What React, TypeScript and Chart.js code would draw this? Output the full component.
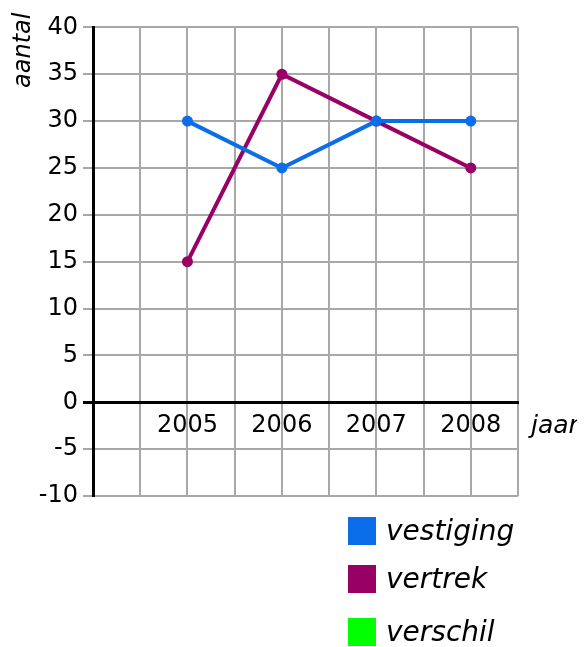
import React, { useEffect, useRef } from "react";
import { Chart, registerables } from "chart.js";

Chart.register(...registerables);

const categories: string[] = ["2005", "2006", "2007", "2008"];
const vestiging: number[] = [30, 25, 30, 30];
const vertrek: number[] = [15, 35, 30, 25];
const verschil: number[] = [];
const seriesNames: string[] = ["vestiging", "vertrek", "verschil"];
const seriesColors: string[] = ["#0a6ee8", "#990066", "#00ff00"];
const yMin = -10;
const yMax = 40;
const yStep = 5;
const xMin = 2004;
const xMax = 2008.5;
const xStep = 0.5;
const yTitle = "aantal";
const xTitle = "jaar";

const FONT = "'DejaVu Sans', Verdana, sans-serif";

export default function App() {
  const ref = useRef<HTMLCanvasElement | null>(null);

  useEffect(() => {
    if (!ref.current) return;
    const toPoints = (vals: number[]) =>
      vals.map((v, i) => ({ x: Number(categories[i]), y: v }));
    const allSeries = [vestiging, vertrek, verschil];
    const chart = new Chart(ref.current, {
      type: "line",
      data: {
        datasets: allSeries.map((vals, i) => ({
          label: seriesNames[i],
          data: toPoints(vals),
          borderColor: seriesColors[i],
          backgroundColor: seriesColors[i],
          pointBackgroundColor: seriesColors[i],
          pointBorderWidth: 0,
          pointRadius: 5.5,
          borderWidth: 4,
          tension: 0,
          fill: false,
        })),
      },
      options: {
        responsive: false,
        animation: false,
        events: [],
        layout: { padding: { top: 17, bottom: 151, right: 59, left: 0 } },
        plugins: { legend: { display: false }, tooltip: { enabled: false } },
        scales: {
          x: {
            type: "linear",
            min: xMin,
            max: xMax,
            position: { y: 0 },
            grid: {
              color: "#a8a8a8",
              lineWidth: 2,
              drawTicks: false,
            },
            border: { display: true, color: "#000000", width: 3 },
            ticks: {
              stepSize: xStep,
              autoSkip: false,
              maxRotation: 0,
              padding: 9,
              color: "#000000",
              font: { family: FONT, size: 24 },
              callback: (v: any) => {
                const s = String(v);
                return categories.includes(s) ? s : "";
              },
            },
          },
          y: {
            type: "linear",
            min: yMin,
            max: yMax,
            afterFit: (s: any) => {
              s.width = 85;
            },
            grid: {
              color: (c: any) => (c.tick && c.tick.value === 0 ? "#000000" : "#a8a8a8"),
              lineWidth: (c: any) => (c.tick && c.tick.value === 0 ? 3 : 2),
              tickLength: 10,
            },
            border: { display: true, color: "#000000", width: 3 },
            ticks: {
              stepSize: yStep,
              padding: 5,
              color: "#000000",
              font: { family: FONT, size: 24 },
            },
          },
        },
      },
    });
    return () => chart.destroy();
  }, []);

  const legendTops = [509, 557, 610];

  return (
    <div style={{ position: "relative", width: 569, height: 639, fontFamily: FONT }}>
      <canvas ref={ref} width={569} height={639} style={{ width: 569, height: 639, display: "block" }} />
      <div
        style={{
          position: "absolute",
          left: 0,
          top: 80,
          transform: "rotate(-90deg)",
          transformOrigin: "left top",
          fontStyle: "italic",
          fontSize: 24,
          lineHeight: "28px",
          whiteSpace: "nowrap",
          color: "#000",
        }}
      >
        {yTitle}
      </div>
      <div
        style={{
          position: "absolute",
          left: 523,
          top: 402,
          fontStyle: "italic",
          fontSize: 25,
          lineHeight: "30px",
          whiteSpace: "nowrap",
          color: "#000",
        }}
      >
        {xTitle}
      </div>
      {seriesNames.map((name, i) => (
        <div
          key={name}
          style={{
            position: "absolute",
            left: 340,
            top: legendTops[i],
            height: 28,
            display: "flex",
            alignItems: "center",
            whiteSpace: "nowrap",
          }}
        >
          <div style={{ width: 28, height: 28, background: seriesColors[i], flexShrink: 0 }} />
          <span style={{ marginLeft: 10, fontStyle: "italic", fontSize: 28, lineHeight: "28px", color: "#000" }}>
            {name}
          </span>
        </div>
      ))}
    </div>
  );
}
